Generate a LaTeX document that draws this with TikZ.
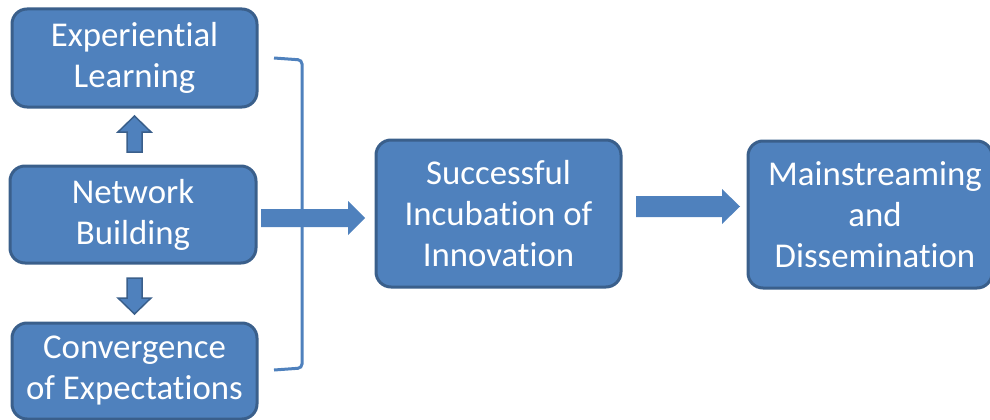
\documentclass[tikz,border=0pt]{standalone}
\usepackage{fontspec}
\setmainfont{Carlito}[Ligatures=NoCommon]
\definecolor{boxfill}{HTML}{4F81BD}
\definecolor{boxline}{HTML}{3A5F8B}
\begin{document}
\begin{tikzpicture}[x=1pt,y=-1pt,
  blk/.style={draw=boxline, line width=3pt, fill=boxfill, rounded corners=15pt,
    text=white, align=center, inner sep=0pt,
    font=\fontsize{34.8}{41}\selectfont},
  barrow/.style={fill=boxfill},
  sarrow/.style={fill=boxfill, draw=boxline, line width=1.5pt, line join=miter}]
\useasboundingbox (0,0) rectangle (990,420);
\node[blk, minimum width=245pt, minimum height=98pt] (el) at (134.5,58) {Experiential\\Learning};
\node[blk, minimum width=246pt, minimum height=97pt] (nb) at (133,214.5) {Network\\Building};
\node[blk, minimum width=245pt, minimum height=96pt] (ce) at (134.5,371) {Convergence\\of Expectations};
\node[blk, minimum width=245pt, minimum height=147pt] (si) at (498.5,213.5) {Successful\\Incubation of\\Innovation};
\node[blk, minimum width=244pt, minimum height=147pt, text width=244pt] (md) at (870,214.5) {\hspace*{10pt}Mainstreaming\\\hspace*{10pt}and\\\hspace*{10pt}Dissemination};
% small arrows
\draw[sarrow] (127,152) -- (127,132) -- (118,132) -- (134.5,116) -- (151,132) -- (142,132) -- (142,152) -- cycle;
\draw[sarrow] (127,278) -- (127,298) -- (118,298) -- (134.5,314) -- (151,298) -- (142,298) -- (142,278) -- cycle;
% bracket
\draw[boxfill, line width=3pt, rounded corners=4pt] (274,58) -- (302,60) -- (302,368) -- (274,370);
% big arrows
\fill[barrow] (261,209) -- (348,209) -- (348,201) -- (365,218) -- (348,235) -- (348,227) -- (261,227) -- cycle;
\fill[barrow] (636,196) -- (722,196) -- (722,189) -- (740,206.5) -- (722,224) -- (722,217) -- (636,217) -- cycle;
\end{tikzpicture}
\end{document}
